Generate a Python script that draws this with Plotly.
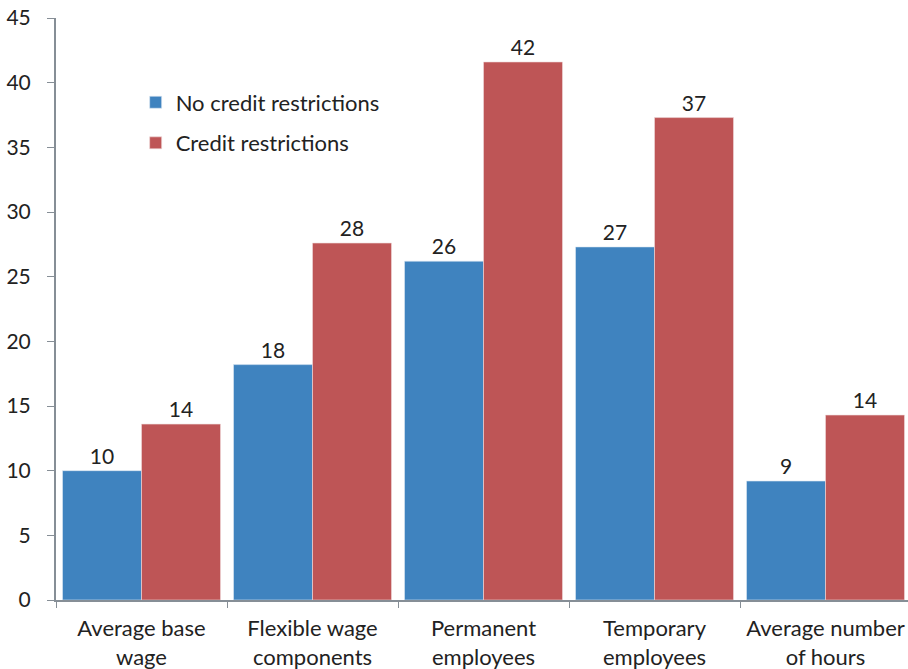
import plotly.graph_objects as go

categories = ["Average base<br>wage", "Flexible wage<br>components", "Permanent<br>employees",
              "Temporary<br>employees", "Average number<br>of hours"]
no_credit = [10.0, 18.2, 26.2, 27.3, 9.2]
credit = [13.6, 27.6, 41.6, 37.3, 14.3]
y_ticks = [0, 5, 10, 15, 20, 25, 30, 35, 40, 45]

FONT = "Lato"
fig = go.Figure()
fig.add_trace(go.Bar(x=categories, y=no_credit, name="No credit restrictions",
                     marker=dict(color="#3F83BF", line=dict(color="#dfe9f3", width=0.6)),
                     texttemplate="%{y:.0f}", textposition="outside", cliponaxis=False,
                     textfont=dict(size=21, color="#222"), legendgroup="a"))
fig.add_trace(go.Bar(x=categories, y=credit, name="Credit restrictions",
                     marker=dict(color="#BE5556", line=dict(color="#f0dcdc", width=0.6)),
                     texttemplate="%{y:.0f}", textposition="outside", cliponaxis=False,
                     textfont=dict(size=21, color="#222"), legendgroup="b"))
fig.update_layout(
    width=908, height=669,
    margin=dict(l=56, r=0, t=18, b=69),
    paper_bgcolor="white", plot_bgcolor="white",
    font=dict(family=FONT, size=21, color="#222"),
    barmode="group", bargap=0.076, bargroupgap=0,
    showlegend=True,
    legend=dict(x=0.0935, y=0.891, xanchor="left", yanchor="top", bgcolor="rgba(0,0,0,0)",
                font=dict(size=22, color="#222"), tracegroupgap=9, itemwidth=30),
    xaxis=dict(range=[-0.5, -0.5 + 852 / 171], showline=True, linecolor="#868E96", linewidth=2,
               ticks="outside", tickson="boundaries", ticklen=6, tickcolor="#868E96",
               showgrid=False, automargin=False, ticklabelstandoff=8,
               tickfont=dict(size=22, color="#222")),
    yaxis=dict(range=[0, 45], tickvals=y_ticks, showline=True, linecolor="#868E96", linewidth=2,
               ticks="outside", ticklen=7, tickcolor="#868E96", showgrid=False, zeroline=False,
               automargin=False, ticklabelstandoff=12, ticklabeloverflow="allow",
               tickfont=dict(size=21, color="#222")),
)
fig.write_html("out.html", config={"displayModeBar": False},
               post_script="document.body.style.margin='0';document.body.style.overflow='hidden';")
